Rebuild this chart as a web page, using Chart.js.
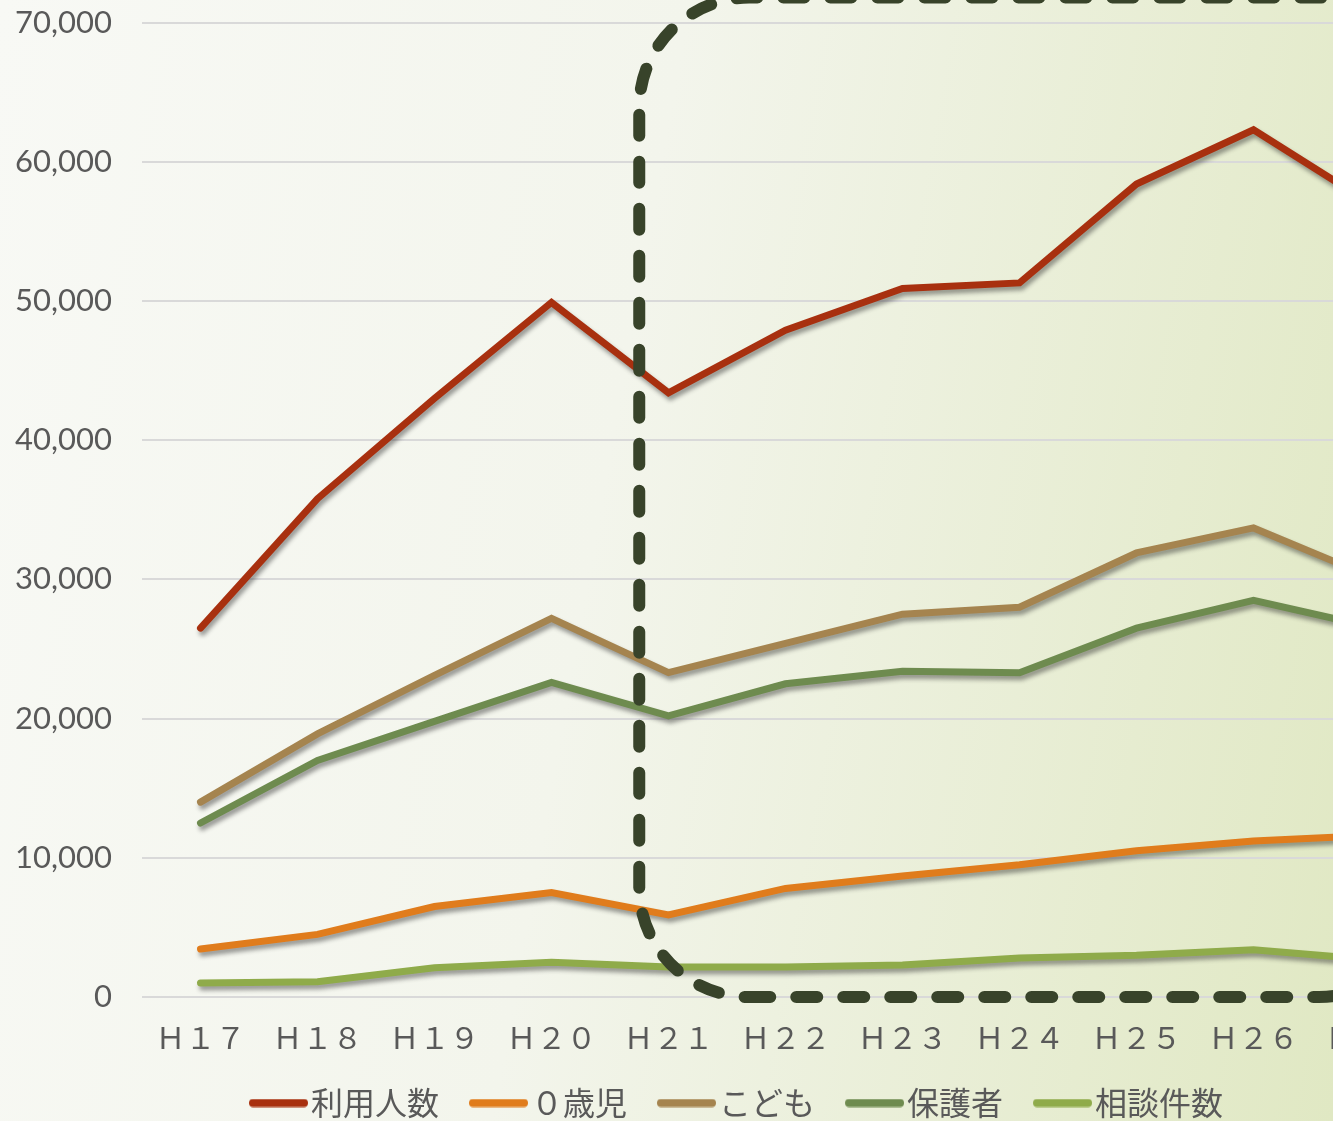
<!DOCTYPE html>
<html>
<head>
<meta charset="utf-8">
<script src="https://cdn.jsdelivr.net/npm/chart.js@4.4.1/dist/chart.umd.min.js"></script>
<style>
  html, body { margin: 0; padding: 0; overflow: hidden; }
  body {
    width: 1333px; height: 1121px;
    background: linear-gradient(100deg, #f8f9f5 0%, #f3f5ec 45%, #e0e8c3 100%);
  }
  /* canvas is taller/wider than the window: the original picture is a crop */
  #wrap { position: relative; top: -26px; width: 1458px; height: 1155px; }
</style>
</head>
<body>
<div id="wrap"><canvas id="chart"></canvas></div>
<script>
// years (Heisei), written full-width like the original sheet
const years = ["Ｈ１７", "Ｈ１８", "Ｈ１９", "Ｈ２０", "Ｈ２１", "Ｈ２２", "Ｈ２３", "Ｈ２４", "Ｈ２５", "Ｈ２６", "Ｈ２７"];

const users    = [26500, 35800, 43000, 49900, 43400, 47900, 50900, 51300, 58400, 62300, 57000]; // 利用人数
const infants  = [3450, 4500, 6500, 7500, 5900, 7800, 8700, 9500, 10500, 11200, 11600];        // 0歳児
const children = [14000, 18900, 23100, 27200, 23300, 25400, 27500, 28000, 31900, 33700, 30200]; // こども
const parents  = [12500, 17000, 19800, 22600, 20200, 22500, 23400, 23300, 26500, 28500, 26600]; // 保護者
const consults = [1000, 1100, 2100, 2500, 2150, 2150, 2300, 2800, 3000, 3400, 2700];            // 相談件数

const seriesNames = ["利用人数", "０歳児", "こども", "保護者", "相談件数"];
const seriesColors = ["#a8300f", "#e07c1c", "#a5844f", "#6e8b4f", "#8fab4a"];

// dashed box starts between H20 and H21 (category index 3.75)
const boxFrom = 3.75;

// legend swatch: a thick line drawn into a small canvas so it sits right next to the text
function swatch(color) {
  const c = document.createElement("canvas");
  c.width = 86; c.height = 9;
  const g = c.getContext("2d");
  g.strokeStyle = color;
  g.lineWidth = 8;
  g.lineCap = "round";
  g.beginPath();
  g.moveTo(31, 4.5);
  g.lineTo(82, 4.5);
  g.stroke();
  return c;
}

const shadowPlugin = {
  id: "shadow",
  beforeDatasetsDraw(chart) {
    const ctx = chart.ctx;
    ctx.save();
    ctx.shadowColor = "rgba(40, 40, 40, 0.45)";
    ctx.shadowBlur = 4;
    ctx.shadowOffsetX = 2;
    ctx.shadowOffsetY = 4;
  },
  afterDatasetsDraw(chart) {
    chart.ctx.restore();
  }
};

const boxPlugin = {
  id: "dashedBox",
  afterDatasetsDraw(chart) {
    const ctx = chart.ctx;
    const xs = chart.scales.x, ys = chart.scales.y;
    const left = xs.getPixelForValue(boxFrom);
    const right = chart.chartArea.right;
    const top = ys.getPixelForValue(70000) - 25;
    const bottom = ys.getPixelForValue(0);
    const r = 110;
    ctx.save();
    ctx.strokeStyle = "#38432a";
    ctx.lineWidth = 12;
    ctx.lineCap = "round";
    ctx.setLineDash([21, 26]);
    ctx.beginPath();
    ctx.moveTo(left + r, bottom);
    ctx.lineTo(right - r, bottom);
    ctx.arcTo(right, bottom, right, bottom - r, r);
    ctx.lineTo(right, top + r);
    ctx.arcTo(right, top, right - r, top, r);
    ctx.lineTo(left + r, top);
    ctx.arcTo(left, top, left, top + r, r);
    ctx.lineTo(left, bottom - r);
    ctx.arcTo(left, bottom, left + r, bottom, r);
    ctx.stroke();
    ctx.restore();
  }
};

const allValues = [users, infants, children, parents, consults];

new Chart(document.getElementById("chart"), {
  type: "line",
  data: {
    labels: years,
    datasets: allValues.map((vals, i) => ({
      label: seriesNames[i],
      data: vals,
      borderColor: seriesColors[i],
      backgroundColor: seriesColors[i],
      borderWidth: 7,
      borderCapStyle: "round",
      borderJoinStyle: "miter",
      tension: 0,
      pointRadius: 0,
      pointHoverRadius: 0,
      pointStyle: swatch(seriesColors[i])
    }))
  },
  options: {
    responsive: true,
    maintainAspectRatio: false,
    animation: false,
    events: [],
    layout: { padding: { left: 0, top: 3, right: 0, bottom: 0 } },
    scales: {
      x: {
        offset: true,
        grid: { display: false },
        border: { display: false },
        ticks: {
          color: "#595959",
          padding: 15,
          maxRotation: 0,
          autoSkip: false,
          font: { family: "'Noto Sans CJK JP', sans-serif", size: 30 }
        },
        afterFit(scale) { scale.height = 74; }
      },
      y: {
        min: 0,
        max: 70000,
        grid: { color: "#d9d9d9", lineWidth: 2, drawTicks: false },
        border: { display: false },
        ticks: {
          stepSize: 10000,
          color: "#595959",
          padding: 30,
          font: { family: "Lato, sans-serif", size: 31 },
          callback: v => v.toLocaleString("en-US")
        },
        afterFit(scale) { scale.width = 142; }
      },
      // empty right-hand axis, only reserves room so the legend centres like the original
      spacer: {
        position: "right",
        grid: { display: false },
        border: { display: false },
        ticks: { display: false },
        afterFit(scale) { scale.width = 29; }
      }
    },
    plugins: {
      tooltip: { enabled: false },
      legend: {
        position: "bottom",
        labels: {
          usePointStyle: true,
          pointStyleWidth: 60,
          padding: 16,
          color: "#595959",
          font: { family: "'Noto Sans CJK JP', sans-serif", size: 32 }
        }
      }
    }
  },
  plugins: [shadowPlugin, boxPlugin]
});
</script>
</body>
</html>
